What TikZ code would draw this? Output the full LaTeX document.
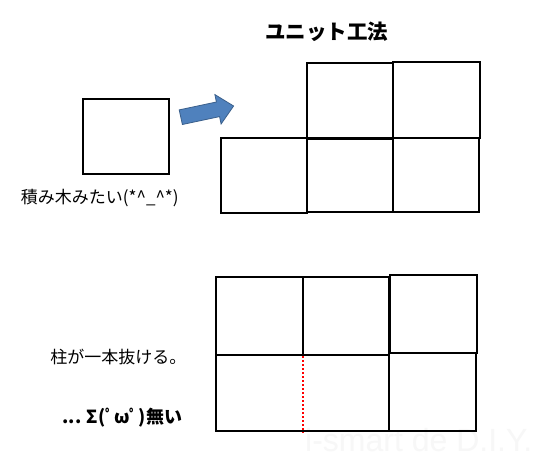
\documentclass[tikz,border=0pt]{standalone}
\usepackage{fontspec}
\newfontfamily\jp{Noto Sans CJK JP}
\newfontfamily\wm{Liberation Sans}
\usetikzlibrary{fit}
\begin{document}
\begin{tikzpicture}[x=1pt,y=-1pt,
  box/.style={draw=black,line width=2pt,inner sep=0pt,fit={#1}},
  lbl/.style={inner sep=0pt,anchor=west,font=\jp},
  arrowfill/.style={fill={rgb,255:red,79;green,129;blue,189},draw={rgb,255:red,58;green,95;blue,139},line width=0.8pt,line join=miter}]
\useasboundingbox[fill=white] (0,0) rectangle (542,462);
% watermark
\node[inner sep=0pt,anchor=base west,font=\wm\fontsize{32}{34}\selectfont,text={rgb,255:red,247;green,247;blue,247}] (wm) at (305,452) {i-smart de D.I.Y.};
% title
\node[inner sep=0pt,font=\jp\bfseries\fontsize{20.5}{23}\selectfont] (title) at (326.7,31.5) {ユニット工法};
% single block
\node[box={(82.7,99) (169.3,174)}] (single) {};
\node[lbl,font=\jp\fontsize{17}{19}\selectfont] (lblA) at (20.7,198) {積み木みたい(*\^{}\_\^{}*)};
% arrow
\path[arrowfill] (179.2,109.9) -- (216.4,102.0) -- (214.9,94.6) -- (233.6,106.0) -- (221.1,124.0) -- (219.6,116.6) -- (182.4,124.5) -- cycle;
% unit construction
\node[box={(306.7,63.3) (392.7,137.7)}] (u1) {};
\node[box={(393.3,62.3) (480,137.7)}] (u2) {};
\node[box={(220.7,137.7) (307.3,212.7)}] (u3) {};
\node[box={(307.3,138.7) (392.7,211.7)}] (u4) {};
\node[box={(392.7,137.7) (479.3,211.7)}] (u5) {};
% conventional
\node[box={(216.3,277.3) (302.8,355.2)}] (c1) {};
\node[box={(302.8,277.3) (389.3,355.2)}] (c2) {};
\node[box={(390.3,275.2) (476.8,353.4)}] (c3) {};
\node[box={(216.3,355.2) (389.3,431)}] (c4) {};
\node[box={(389.3,353.4) (475.8,431)}] (c5) {};
\coordinate (ptop) at (302.8,356.2);
\coordinate (pbot) at (302.8,433);
\draw[red,line width=2pt,dash pattern=on 2pt off 2pt] (ptop) -- (pbot);
\node[lbl,font=\jp\fontsize{17}{19}\selectfont] (lblB) at (50.2,357) {柱が一本抜ける。};
\node[lbl,font=\jp\bfseries\fontsize{18}{20}\selectfont] (lblC) at (62.3,417.4) {... Σ(ﾟωﾟ)無い};
\end{tikzpicture}
\end{document}
